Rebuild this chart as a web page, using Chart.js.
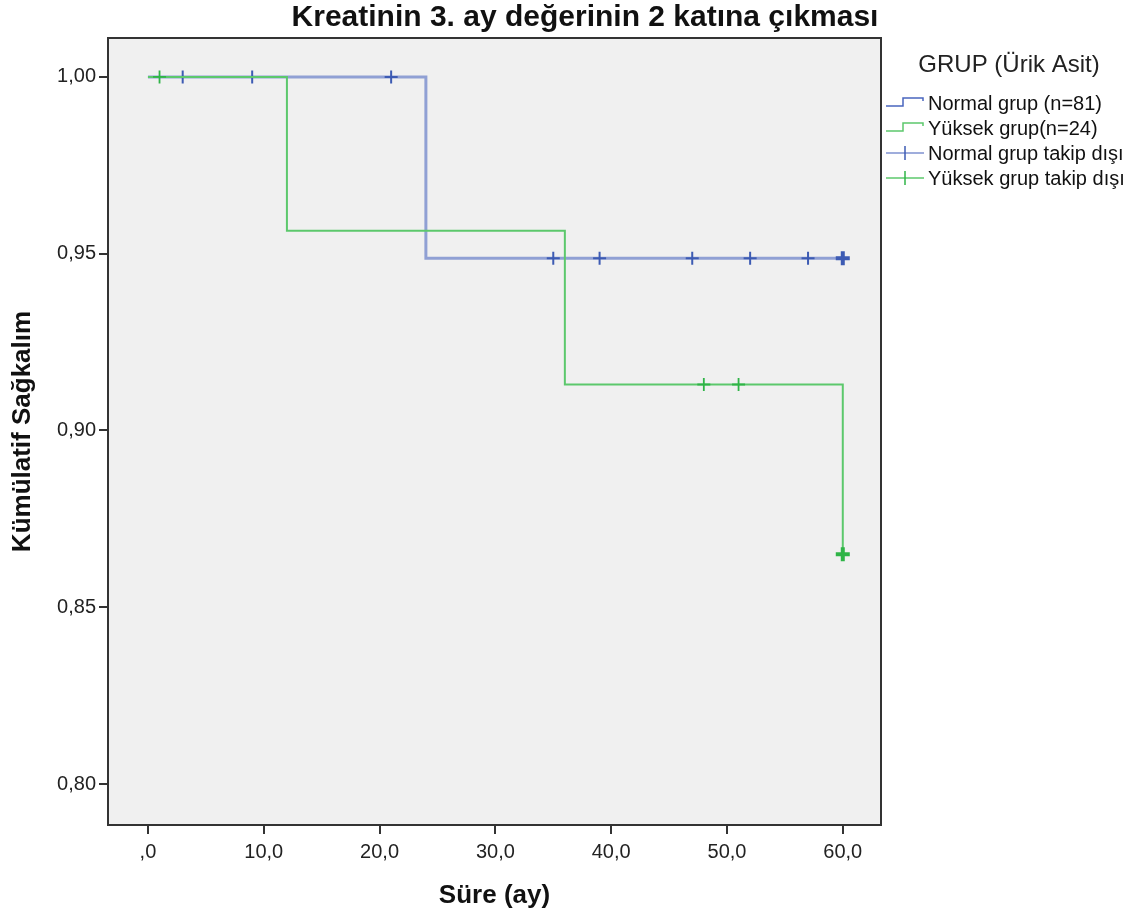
<!DOCTYPE html>
<html>
<head>
<meta charset="utf-8">
<script src="https://cdn.jsdelivr.net/npm/chart.js@4/dist/chart.umd.min.js"></script>
<style>
html,body{margin:0;padding:0;background:#fff;}
#wrap{width:1138px;height:923px;position:relative;}
</style>
</head>
<body>
<div id="wrap"><canvas id="c" width="1138" height="923"></canvas></div>
<script>
// ---- data ----
const chartTitle = "Kreatinin 3. ay değerinin 2 katına çıkması";
const legendTitle = "GRUP (Ürik Asit)";
const seriesNames = ["Normal grup (n=81)", "Yüksek grup(n=24)", "Normal grup takip dışı", "Yüksek grup takip dışı"];
const xTicks = [0, 10, 20, 30, 40, 50, 60];
const yTicks = [0.80, 0.85, 0.90, 0.95, 1.00];

// step curves (time, survival)
const normalTimes = [0, 24, 60];
const normalSurv  = [1.0, 0.9487, 0.9487];
const yuksekTimes = [0, 12, 36, 60];
const yuksekSurv  = [1.0, 0.9565, 0.9130, 0.8650];

// censored observations
const normalCensTimes = [3, 9, 21, 35, 39, 47, 52, 57, 60];
const normalCensSurv  = [1.0, 1.0, 1.0, 0.9487, 0.9487, 0.9487, 0.9487, 0.9487, 0.9487];
const normalCensMulti = [false, false, false, false, false, false, false, false, true];
const yuksekCensTimes = [1, 48, 51, 60];
const yuksekCensSurv  = [1.0, 0.9130, 0.9130, 0.8650];
const yuksekCensMulti = [false, false, false, true];

const blueLine = "rgba(120,140,205,0.8)";
const blueMark = "#3d5bb3";
const greenLine = "#5cc86c";
const greenMark = "#2fb447";
const FONT = '"Liberation Sans", Arial, sans-serif';

const toPts = (xs, ys) => xs.map((x, i) => ({x: x, y: ys[i]}));

const framePlugin = {
  id: 'frame',
  beforeDraw(chart) {
    const {ctx, chartArea: a} = chart;
    ctx.save();
    ctx.fillStyle = '#f0f0f0';
    ctx.fillRect(a.left, a.top, a.right - a.left, a.bottom - a.top);
    ctx.restore();
  },
  afterDraw(chart) {
    const {ctx, chartArea: a} = chart;
    ctx.save();
    ctx.strokeStyle = '#333';
    ctx.lineWidth = 2;
    ctx.strokeRect(a.left, a.top, a.right - a.left, a.bottom - a.top);
    // title
    ctx.fillStyle = '#111';
    ctx.font = 'bold 30px ' + FONT;
    ctx.textAlign = 'center';
    ctx.textBaseline = 'middle';
    ctx.fillText(chartTitle, 585, 18);
    // legend
    ctx.font = '24px ' + FONT;
    ctx.fillStyle = '#222';
    ctx.fillText(legendTitle, 1009, 65);
    ctx.font = '20px ' + FONT;
    ctx.textAlign = 'left';
    const rows = [103, 128, 153, 178];
    const stepCols = ["#4a66be", "#5cc86c"];
    rows.forEach((y, i) => {
      ctx.lineWidth = 1.5;
      if (i < 2) {
        ctx.strokeStyle = stepCols[i];
        ctx.beginPath();
        ctx.moveTo(886, y + 3);
        ctx.lineTo(903, y + 3);
        ctx.lineTo(903, y - 5);
        ctx.lineTo(923, y - 5);
        ctx.lineTo(923, y - 2);
        ctx.stroke();
      } else {
        ctx.strokeStyle = i === 2 ? "#7f92d0" : "#5cc86c";
        ctx.beginPath();
        ctx.moveTo(886, y);
        ctx.lineTo(924, y);
        ctx.stroke();
        ctx.strokeStyle = i === 2 ? blueMark : greenMark;
        ctx.beginPath();
        ctx.moveTo(905, y - 7);
        ctx.lineTo(905, y + 7);
        ctx.stroke();
      }
      ctx.fillStyle = '#111';
      ctx.fillText(seriesNames[i], 928, y + 1);
    });
    ctx.restore();
  }
};

const ctx = document.getElementById('c').getContext('2d');
new Chart(ctx, {
  type: 'scatter',
  data: {
    datasets: [
      {
        label: seriesNames[0],
        data: toPts(normalTimes, normalSurv),
        showLine: true, stepped: 'before',
        borderColor: blueLine, borderWidth: 3,
        pointRadius: 0, order: 4
      },
      {
        label: seriesNames[2],
        data: toPts(normalCensTimes, normalCensSurv),
        showLine: false, pointStyle: 'cross',
        pointRadius: normalCensMulti.map(m => m ? 7 : 6.5),
        borderColor: blueMark,
        pointBorderWidth: normalCensMulti.map(m => m ? 4 : 2),
        order: 3
      },
      {
        label: seriesNames[1],
        data: toPts(yuksekTimes, yuksekSurv),
        showLine: true, stepped: 'before',
        borderColor: greenLine, borderWidth: 2,
        pointRadius: 0, order: 2
      },
      {
        label: seriesNames[3],
        data: toPts(yuksekCensTimes, yuksekCensSurv),
        showLine: false, pointStyle: 'cross',
        pointRadius: yuksekCensMulti.map(m => m ? 7 : 6.5),
        borderColor: greenMark,
        pointBorderWidth: yuksekCensMulti.map(m => m ? 4 : 1.8),
        order: 1
      }
    ]
  },
  options: {
    responsive: false,
    animation: false,
    layout: {padding: {top: 38, right: 257, left: 0, bottom: 0}},
    plugins: {legend: {display: false}, tooltip: {enabled: false}, title: {display: false}},
    scales: {
      x: {
        type: 'linear', min: -3.45, max: 63.3,
        afterBuildTicks: s => { s.ticks = xTicks.map(v => ({value: v})); },
        afterFit: s => { s.height = 98; },
        grid: {drawOnChartArea: false, tickLength: 9, color: '#333', lineWidth: 2},
        border: {display: true, color: '#333', width: 2},
        ticks: {
          color: '#222', padding: 6,
          font: {family: FONT, size: 20},
          callback: v => v === 0 ? ',0' : v.toFixed(1).replace('.', ',')
        },
        title: {display: true, text: 'Süre (ay)', color: '#111',
          font: {family: FONT, size: 26, weight: 'bold'},
          padding: {top: 0, bottom: 12}}
      },
      y: {
        type: 'linear', min: 0.7884, max: 1.011,
        afterBuildTicks: s => { s.ticks = yTicks.map(v => ({value: v})); },
        afterFit: s => { s.width = 108; },
        grid: {drawOnChartArea: false, tickLength: 9, color: '#333', lineWidth: 2},
        border: {display: true, color: '#333', width: 2},
        ticks: {
          color: '#222', padding: 3,
          font: {family: FONT, size: 20},
          callback: v => v.toFixed(2).replace('.', ',')
        },
        title: {display: true, text: 'Kümülatif Sağkalım', color: '#111',
          font: {family: FONT, size: 26, weight: 'bold'},
          padding: {top: 7, bottom: 0}}
      }
    }
  },
  plugins: [framePlugin]
});
</script>
</body>
</html>
